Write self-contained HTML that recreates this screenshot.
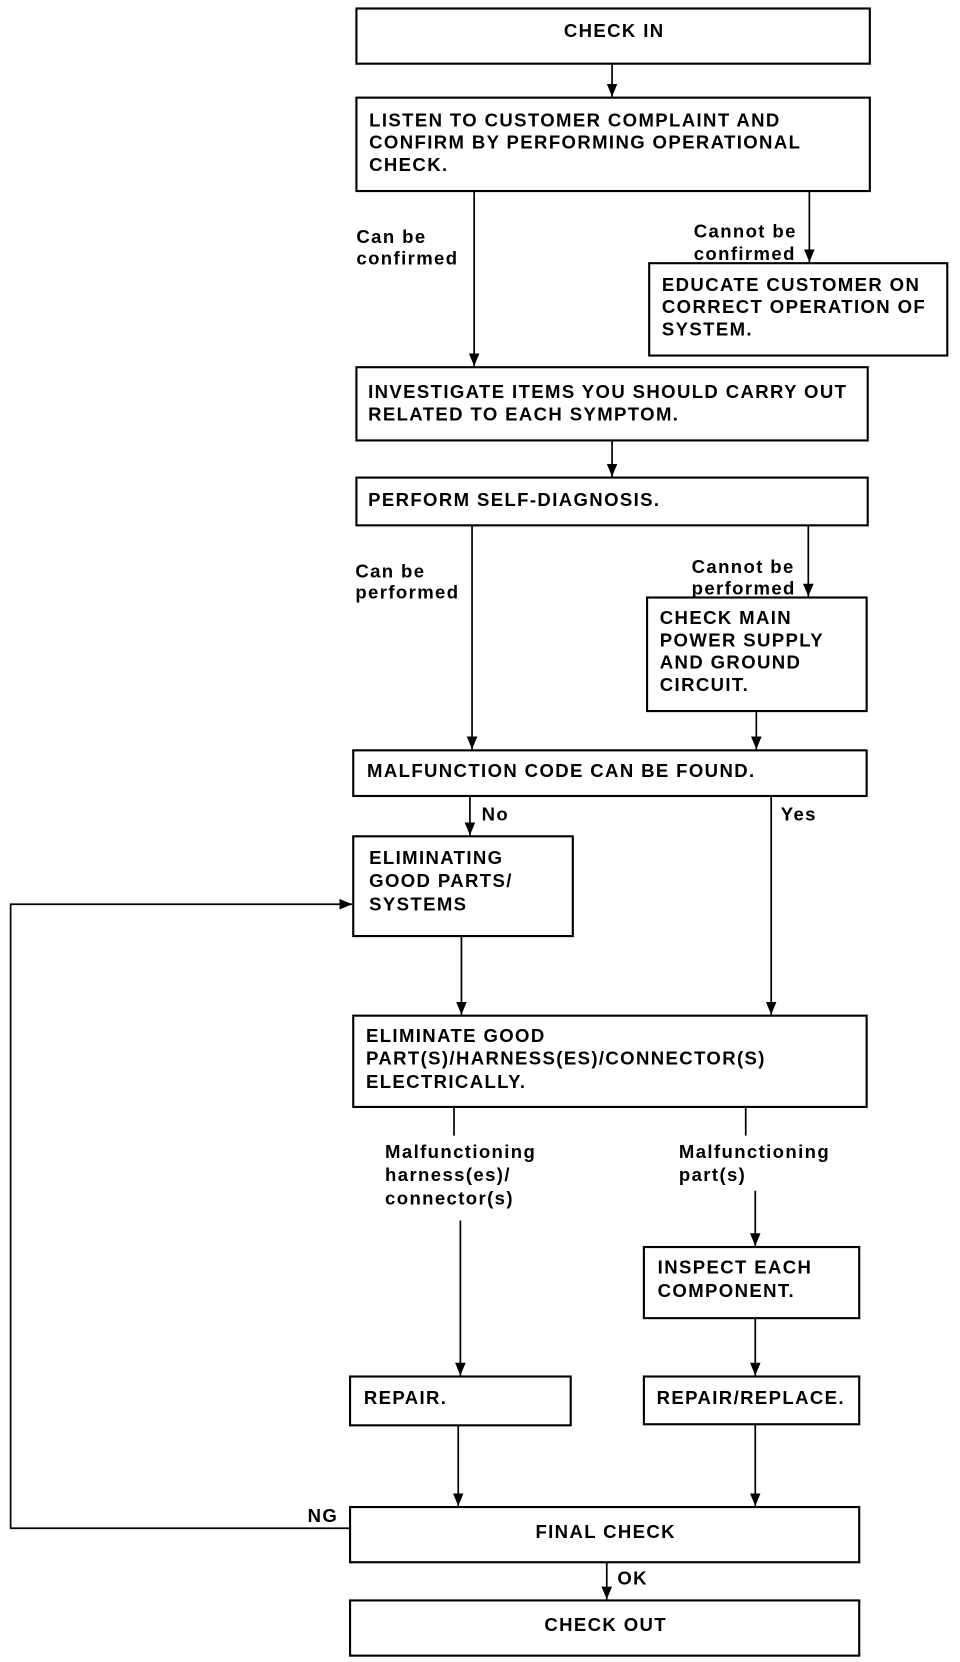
<!DOCTYPE html>
<html><head><meta charset="utf-8"><style>
html,body{margin:0;padding:0;background:#fff;}
svg{display:block;}
text{font-family:"Liberation Sans",Arial,sans-serif;font-size:17.5px;font-weight:bold;letter-spacing:1.3px;fill:#000;}
text.m{text-anchor:middle;}
</style></head><body>
<svg width="960" height="1662" viewBox="0 0 905 1566" preserveAspectRatio="none" xmlns="http://www.w3.org/2000/svg">
<defs>
<marker id="a" markerWidth="12" markerHeight="10" refX="12" refY="5" orient="auto" markerUnits="userSpaceOnUse" viewBox="0 0 12 10">
<path d="M0,0 L12,5 L0,10 Z" fill="#000"/></marker>
</defs>
<g fill="none" stroke="#000" stroke-width="2">
<rect x="336" y="8" width="484" height="52"/>
<rect x="336" y="92" width="484" height="88"/>
<rect x="612" y="248" width="281" height="87"/>
<rect x="336" y="346" width="482" height="69"/>
<rect x="336" y="450" width="482" height="45"/>
<rect x="610" y="563" width="207" height="107"/>
<rect x="333" y="707" width="484" height="43"/>
<rect x="333" y="788" width="207" height="94"/>
<rect x="333" y="957" width="484" height="86"/>
<rect x="607" y="1175" width="203" height="67"/>
<rect x="330" y="1297" width="208" height="46"/>
<rect x="607" y="1297" width="203" height="45"/>
<rect x="330" y="1420" width="480" height="52"/>
<rect x="330" y="1508" width="480" height="52"/>
</g>
<g fill="none" stroke="#000" stroke-width="1.6">
<line x1="577" y1="60" x2="577" y2="91" marker-end="url(#a)"/>
<line x1="447" y1="180" x2="447" y2="345" marker-end="url(#a)"/>
<line x1="763" y1="180" x2="763" y2="247" marker-end="url(#a)"/>
<line x1="577" y1="415" x2="577" y2="449" marker-end="url(#a)"/>
<line x1="445" y1="495" x2="445" y2="706" marker-end="url(#a)"/>
<line x1="762" y1="495" x2="762" y2="562" marker-end="url(#a)"/>
<line x1="713" y1="670" x2="713" y2="706" marker-end="url(#a)"/>
<line x1="443" y1="750" x2="443" y2="787" marker-end="url(#a)"/>
<line x1="727" y1="750" x2="727" y2="956" marker-end="url(#a)"/>
<line x1="435" y1="882" x2="435" y2="956" marker-end="url(#a)"/>
<line x1="428" y1="1043" x2="428" y2="1070"/>
<line x1="434" y1="1150" x2="434" y2="1296" marker-end="url(#a)"/>
<line x1="703" y1="1043" x2="703" y2="1070"/>
<line x1="712" y1="1122" x2="712" y2="1174" marker-end="url(#a)"/>
<line x1="712" y1="1242" x2="712" y2="1296" marker-end="url(#a)"/>
<line x1="432" y1="1343" x2="432" y2="1419" marker-end="url(#a)"/>
<line x1="712" y1="1342" x2="712" y2="1419" marker-end="url(#a)"/>
<line x1="572" y1="1472" x2="572" y2="1507" marker-end="url(#a)"/>
<polyline points="330,1440 10,1440 10,852 332,852" marker-end="url(#a)"/>
</g>
<text class="m" x="579" y="35">CHECK IN</text>
<text x="348" y="119">LISTEN TO CUSTOMER COMPLAINT AND</text>
<text x="348" y="140">CONFIRM BY PERFORMING OPERATIONAL</text>
<text x="348" y="161">CHECK.</text>
<text x="336" y="229">Can be</text>
<text x="336" y="249">confirmed</text>
<text x="654" y="224">Cannot be</text>
<text x="654" y="245">confirmed</text>
<text x="624" y="274">EDUCATE CUSTOMER ON</text>
<text x="624" y="295">CORRECT OPERATION OF</text>
<text x="624" y="316">SYSTEM.</text>
<text x="347" y="375">INVESTIGATE ITEMS YOU SHOULD CARRY OUT</text>
<text x="347" y="396">RELATED TO EACH SYMPTOM.</text>
<text x="347" y="477">PERFORM SELF-DIAGNOSIS.</text>
<text x="335" y="544">Can be</text>
<text x="335" y="564">performed</text>
<text x="652" y="540">Cannot be</text>
<text x="652" y="560">performed</text>
<text x="622" y="588">CHECK MAIN</text>
<text x="622" y="609">POWER SUPPLY</text>
<text x="622" y="630">AND GROUND</text>
<text x="622" y="651">CIRCUIT.</text>
<text x="346" y="732">MALFUNCTION CODE CAN BE FOUND.</text>
<text x="454" y="773">No</text>
<text x="736" y="773">Yes</text>
<text x="348" y="814">ELIMINATING</text>
<text x="348" y="836">GOOD PARTS/</text>
<text x="348" y="858">SYSTEMS</text>
<text x="345" y="982">ELIMINATE GOOD</text>
<text x="345" y="1003">PART(S)/HARNESS(ES)/CONNECTOR(S)</text>
<text x="345" y="1025">ELECTRICALLY.</text>
<text x="363" y="1091">Malfunctioning</text>
<text x="363" y="1113">harness(es)/</text>
<text x="363" y="1135">connector(s)</text>
<text x="640" y="1091">Malfunctioning</text>
<text x="640" y="1113">part(s)</text>
<text x="620" y="1200">INSPECT EACH</text>
<text x="620" y="1222">COMPONENT.</text>
<text x="343" y="1323">REPAIR.</text>
<text x="619" y="1323">REPAIR/REPLACE.</text>
<text x="290" y="1434">NG</text>
<text class="m" x="571" y="1449">FINAL CHECK</text>
<text x="582" y="1493">OK</text>
<text class="m" x="571" y="1537">CHECK OUT</text>
</svg>
</body></html>
